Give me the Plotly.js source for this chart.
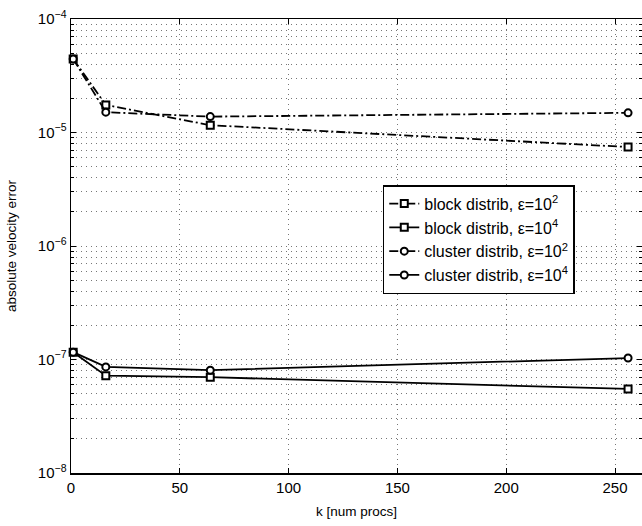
<!DOCTYPE html>
<html>
<head>
<meta charset="utf-8">
<script src="https://cdn.plot.ly/plotly-3.0.1.min.js"></script>
<style>html,body{margin:0;padding:0;background:#fff}</style>
</head>
<body>
<div id="chart" style="width:642px;height:526px"></div>
<script>
const kProcs = [1, 16, 64, 256];
const blockEps2 = [4.45e-5, 1.75e-5, 1.16e-5, 7.45e-6];
const blockEps4 = [1.16e-7, 7.2e-8, 6.98e-8, 5.5e-8];
const clusterEps2 = [4.45e-5, 1.51e-5, 1.38e-5, 1.49e-5];
const clusterEps4 = [1.16e-7, 8.6e-8, 8.05e-8, 1.03e-7];
const seriesNames = ['block distrib, ε=10<sup>2</sup>', 'block distrib, ε=10<sup>4</sup>',
                     'cluster distrib, ε=10<sup>2</sup>', 'cluster distrib, ε=10<sup>4</sup>'];
const yTickVals = [1e-8, 1e-7, 1e-6, 1e-5, 1e-4];
const yTickText = ['10<sup>−8</sup>', '10<sup>−7</sup>', '10<sup>−6</sup>', '10<sup>−5</sup>', '10<sup>−4</sup>'];
const xTickVals = [0, 50, 100, 150, 200, 250];

function tr(y, name, dash, symbol) {
  return {
    x: kProcs, y: y, name: name, type: 'scatter', mode: 'lines+markers',
    line: {color: '#000', width: 1.8, dash: dash},
    marker: {symbol: symbol, size: 7, color: '#fff', line: {color: '#000', width: 2}},
    cliponaxis: false
  };
}
const dashDot = '9px,3px,2px,3px';
const data = [
  tr(blockEps2, seriesNames[0], dashDot, 'square'),
  tr(blockEps4, seriesNames[1], 'solid', 'square'),
  tr(clusterEps2, seriesNames[2], dashDot, 'circle'),
  tr(clusterEps4, seriesNames[3], 'solid', 'circle')
];
const font = {family: 'Liberation Sans, Arial, sans-serif', color: '#000'};
const gridDash = '1px,4px';
const layout = {
  width: 642, height: 526,
  margin: {l: 71, r: 0, t: 19, b: 53},
  paper_bgcolor: '#fff', plot_bgcolor: '#fff',
  font: Object.assign({size: 14}, font),
  showlegend: true,
  legend: {
    x: 0.546, y: 0.634, xanchor: 'left', yanchor: 'top',
    bgcolor: '#fff', bordercolor: '#000', borderwidth: 1.5,
    font: Object.assign({size: 16}, font),
    tracegroupgap: 0, itemwidth: 30
  },
  xaxis: {
    range: [0, 262.4], tickmode: 'array', tickvals: xTickVals,
    ticks: 'inside', ticklen: 5, tickcolor: '#000',
    showline: true, linecolor: '#000', linewidth: 1.5, mirror: 'ticks',
    showgrid: true, gridcolor: '#777', griddash: gridDash, gridwidth: 1,
    zeroline: false,
    tickfont: Object.assign({size: 15}, font),
    title: {text: 'k [num procs]', font: Object.assign({size: 13.5}, font), standoff: 12}
  },
  yaxis: {
    type: 'log', range: [-8, -4], tickmode: 'array', tickvals: yTickVals, ticktext: yTickText,
    ticks: 'inside', ticklen: 5, tickcolor: '#000',
    showline: true, linecolor: '#000', linewidth: 1.5, mirror: 'ticks',
    showgrid: true, gridcolor: '#777', griddash: gridDash, gridwidth: 1,
    zeroline: false,
    minor: {dtick: 'D1', showgrid: true, gridcolor: '#777', griddash: gridDash, gridwidth: 1, ticks: 'inside', ticklen: 3, tickcolor: '#000'},
    tickfont: Object.assign({size: 15}, font),
    title: {text: 'absolute velocity error', font: Object.assign({size: 13.5}, font), standoff: 18}
  }
};
Plotly.newPlot('chart', data, layout, {displayModeBar: false, staticPlot: true});
</script>
</body>
</html>
